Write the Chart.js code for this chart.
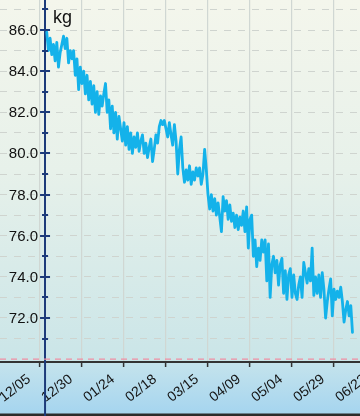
<!DOCTYPE html>
<html><head><meta charset="utf-8">
<script src="https://cdn.jsdelivr.net/npm/chart.js@4.4.0/dist/chart.umd.min.js"></script>
<style>
html,body{margin:0;padding:0;background:#fff;}
#wrap{position:relative;width:360px;height:416px;overflow:hidden;
background:linear-gradient(to bottom,#f4f6ec 0px,#e7f1ea 170px,#cae5e8 362px,#c4e3ec 363px,#a6d5ef 413px,#2b2b2b 414px,#2b2b2b 416px);}
canvas{position:absolute;left:0;top:0;}
#unit{position:absolute;left:53px;top:7px;font:18px "Liberation Sans",Arial,sans-serif;color:#111;}
</style></head>
<body><div id="wrap"><canvas id="c" width="360" height="416"></canvas><div id="unit">kg</div></div>
<script>
// x axis: days counted from 12/05
const tickDays = [0, 25, 50, 75, 100, 125, 150, 175, 200];
const tickLabels = ['12/05', '12/30', '01/24', '02/18', '03/15', '04/09', '05/04', '05/29', '06/23'];
const yTickValues = [71, 72, 73, 74, 75, 76, 77, 78, 79, 80, 81, 82, 83, 84, 85, 86, 87];
const firstDay = 4; // first weighing day (days after 12/05)
const weights = [
  85.9,85.0,85.6,84.8,85.3,84.5,85.4,84.2,84.9,85.3,85.7,85.1,85.6,84.4,85.0,84.6,85.0,
  83.8,84.6,83.1,84.2,83.4,84.0,82.9,83.8,82.6,83.5,82.4,83.3,82.0,83.0,81.9,82.8,
  82.3,82.9,83.4,82.0,82.6,81.2,82.3,81.0,82.0,80.7,81.8,81.2,80.6,81.5,
  80.4,81.3,80.2,81.0,80.0,80.8,80.3,81.0,80.1,80.6,80.9,80.0,80.5,79.8,80.3,80.7,79.6,
  80.2,80.9,80.5,81.3,81.6,81.4,81.6,81.2,80.8,81.5,80.9,80.4,81.4,80.6,79.0,80.2,80.8,79.3,78.6,79.2,78.7,79.4,78.5,79.1,78.7,79.3,78.9,79.3,78.5,79.0,80.2,
  79.2,78.0,77.3,78.0,77.2,77.8,77.0,77.6,76.9,76.2,77.9,77.2,77.7,76.8,77.5,76.7,77.1,76.4,77.0,76.3,76.9,76.5,77.2,76.2,77.4,75.4,76.8,77.0,
  75.0,75.8,74.5,75.4,74.8,75.8,75.2,75.8,73.8,75.6,73.0,74.6,75.0,74.2,74.8,73.6,74.6,74.9,73.2,74.3,72.9,74.1,74.4,73.0,74.1,73.2,72.9,73.6,74.0,
  73.0,74.7,74.2,73.7,74.4,73.8,75.4,73.1,74.0,73.2,74.1,73.0,74.2,73.4,72.0,72.8,73.4,73.9,72.1,73.4,72.9,73.3,73.0,73.5,72.8,71.8,72.4,72.8,72.1,72.6,71.3
];
const goalWeight = 70.0;
const xMin = -23.81, xMax = 190.48;
const yMin = 69.86, yMax = 87.46;
const yAxisDay = 3;

const NAVY = '#1d3b7a';
const FONT = '"Liberation Sans", Arial, sans-serif';
const points = weights.map((w, i) => ({x: firstDay + i, y: w}));
const yLabel = v => (v % 2 === 0 ? v.toFixed(1) : '');

// y axis sits inside the plot (at a day value), so its tick marks and labels are drawn here from the y scale
const axisDecor = {
  id: 'axisDecor',
  afterDraw(chart) {
    const ys = chart.scales.y, xs = chart.scales.x, ctx = chart.ctx;
    const ax = xs.getPixelForValue(yAxisDay);
    ctx.save();
    ctx.strokeStyle = NAVY; ctx.lineWidth = 2;
    ctx.beginPath(); ctx.moveTo(ax, chart.chartArea.bottom - 1); ctx.lineTo(ax, chart.height); ctx.stroke();
    ctx.fillStyle = '#111';
    ctx.font = '15px ' + FONT;
    ctx.textAlign = 'right';
    ctx.textBaseline = 'middle';
    ys.ticks.forEach(t => {
      const py = Math.round(ys.getPixelForValue(t.value));
      const h = t.value % 2 === 0 ? 5 : 3;
      ctx.beginPath(); ctx.moveTo(ax - h, py); ctx.lineTo(ax + h, py); ctx.stroke();
      const txt = yLabel(t.value);
      if (txt) ctx.fillText(txt, ax - 7, py + 1);
    });
    ctx.restore();
  }
};

new Chart(document.getElementById('c'), {
  type: 'line',
  data: {
    datasets: [
      { data: points, borderColor: '#14b2ea', borderWidth: 2.8, pointRadius: 0, tension: 0, order: 1,
        borderJoinStyle: 'round', borderCapStyle: 'round' },
      { data: [{x: xMin, y: goalWeight}, {x: xMax, y: goalWeight}], borderColor: '#f08ea2', borderWidth: 1.2,
        borderDash: [6, 5], pointRadius: 0, order: 2 }
    ]
  },
  options: {
    responsive: false, animation: false,
    layout: { padding: 0 },
    plugins: { legend: { display: false }, tooltip: { enabled: false } },
    scales: {
      x: {
        type: 'linear', min: xMin, max: xMax, position: 'bottom',
        afterBuildTicks: s => { s.ticks = tickDays.map(v => ({value: v})); },
        afterFit: s => { s.paddingLeft = 0; s.paddingRight = 0; s.height = 54; },
        ticks: { autoSkip: false, minRotation: 38, maxRotation: 38, padding: 4, labelOffset: -11, color: '#151515',
          font: { family: FONT, size: 14 },
          callback: (v, i) => tickLabels[i] },
        grid: { color: '#d0d7d3', lineWidth: 1.2, tickLength: 5, tickColor: '#333', tickWidth: 1.5 },
        border: { color: '#333', width: 2 }
      },
      y: {
        type: 'linear', min: yMin, max: yMax, position: { x: yAxisDay },
        afterBuildTicks: s => { s.ticks = yTickValues.map(v => ({value: v})); },
        afterFit: s => { s.paddingTop = 0; s.paddingBottom = 0; s.paddingLeft = 0; s.paddingRight = 0; },
        ticks: { display: false },
        grid: { color: '#cfd4cf', lineWidth: 1, drawTicks: false },
        border: { color: NAVY, width: 2, dash: [7, 7] }
      }
    }
  },
  plugins: [axisDecor]
});
</script>
</body></html>
